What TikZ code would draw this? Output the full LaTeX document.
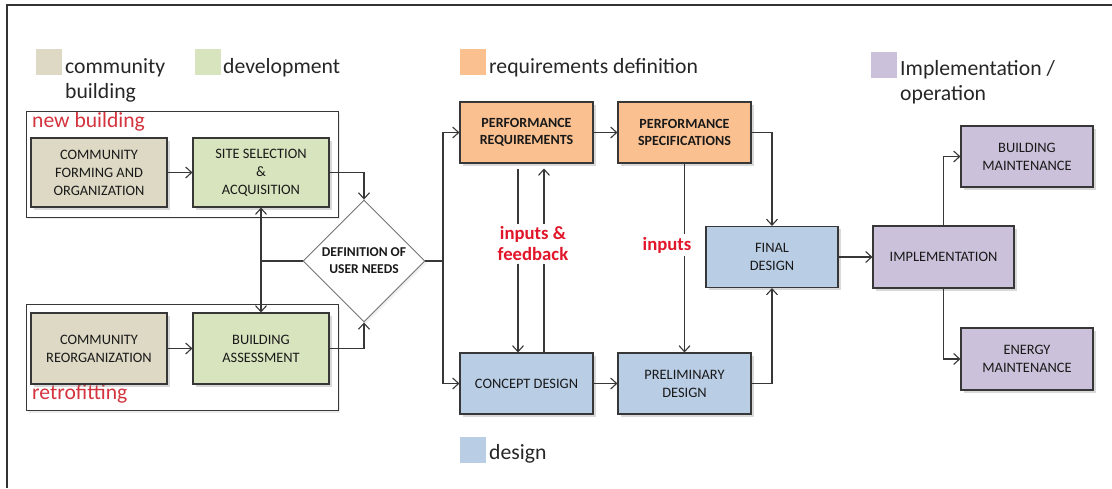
\documentclass[tikz,border=0pt]{standalone}
\usepackage{fontspec}
\setmainfont{Carlito}
\usetikzlibrary{shapes.geometric,shadows,arrows.meta}

\definecolor{commcol}{RGB}{221,217,196}
\definecolor{devcol}{RGB}{215,228,189}
\definecolor{reqcol}{RGB}{250,192,144}
\definecolor{descol}{RGB}{185,205,229}
\definecolor{impcol}{RGB}{204,193,218}
\definecolor{linecol}{RGB}{55,55,55}
\definecolor{notecol}{RGB}{212,52,62}
\definecolor{flowcol}{RGB}{226,22,42}

\begin{document}
\begin{tikzpicture}[x=1pt, y=-1pt, >={Straight Barb[length=6pt,width=11pt]},
        box/.style = {draw=linecol, line width=1.1pt, align=center, text=black!90,
            minimum width=133pt, minimum height=61pt, inner sep=1pt,
            font=\fontsize{14.4}{18}\selectfont,
            drop shadow={shadow xshift=2.5pt, shadow yshift=-2.5pt, opacity=0.3}},
        boldbox/.style = {box, font=\fontsize{14}{17.5}\selectfont\bfseries},
        group/.style = {draw=linecol, line width=1pt, fill=white,
            minimum width=312pt, minimum height=106pt,
            drop shadow={shadow xshift=2pt, shadow yshift=-2pt, opacity=0.15}},
        swatch/.style = {minimum width=26pt, minimum height=26pt, inner sep=0pt},
        legend/.style = {anchor=base west, inner sep=0pt, align=left, text=black!85,
            font=\fontsize{21.7}{25}\selectfont},
        note/.style = {anchor=base west, inner sep=0pt, text=notecol,
            font=\fontsize{21.6}{25}\selectfont},
        flow/.style = {fill=white, inner sep=3pt, align=center, text=flowcol,
            font=\fontsize{18.7}{21}\selectfont\bfseries},
        link/.style = {->, draw=linecol, line width=1.1pt},
        wire/.style = {draw=linecol, line width=1.1pt}]

        \useasboundingbox (0,0) rectangle (1112,488);
        \draw[black!80, line width=1.3pt] (7,488) -- (7,5) -- (1112,5);

        % legend (two-line entries sit on the baseline of their last line)
        \node[swatch, fill=commcol] (swcomm) at (49,62) {};
        \node[legend] (lgcomm) at (65,98) {community\\building};
        \node[swatch, fill=devcol] (swdev) at (208,62) {};
        \node[legend] (lgdev) at (223,73) {development};
        \node[swatch, fill=reqcol] (swreq) at (472.5,62) {};
        \node[legend] (lgreq) at (489,73) {requirements definition};
        \node[swatch, fill=impcol] (swimp) at (884,64.5) {};
        \node[legend] (lgimp) at (900,100) {Implementation /\\operation};
        \node[swatch, fill=descol] (swdes) at (473,449.5) {};
        \node[legend] (lgdes) at (489,459) {design};

        % new building / retrofitting frames
        \node[group] (newb) at (182,164) {};
        \node[group] (retro) at (182,357.5) {};
        \node[note] (lbnew) at (32,127) {new building};
        \node[note] (lbretro) at (32,399) {retrofitting};

        % process boxes
        \node[box, fill=commcol, minimum width=136pt, minimum height=69pt] (cfo) at (99,172.5) {COMMUNITY\\FORMING AND\\ORGANIZATION};
        \node[box, fill=devcol, minimum width=136pt, minimum height=69pt] (ssa) at (261,172.5) {SITE SELECTION\\\&\\ACQUISITION};
        \node[box, fill=commcol, minimum width=136pt, minimum height=71pt] (cro) at (99,348.5) {COMMUNITY\\REORGANIZATION};
        \node[box, fill=devcol, minimum width=136pt, minimum height=71pt] (bas) at (261,348.5) {BUILDING\\ASSESSMENT};
        \node[diamond, draw=black!55, line width=0.9pt, fill=white, minimum width=122pt, minimum height=122pt,
            inner sep=0pt, align=center, text=black!90, font=\fontsize{13.5}{17}\selectfont\bfseries,
            drop shadow={shadow xshift=2pt, shadow yshift=-2pt, opacity=0.12}] (dun) at (364,261) {DEFINITION OF\\USER NEEDS};

        \node[boldbox, fill=reqcol] (preq) at (526.5,132.5) {PERFORMANCE\\REQUIREMENTS};
        \node[boldbox, fill=reqcol] (pspec) at (684.5,132.5) {PERFORMANCE\\SPECIFICATIONS};
        \node[box, fill=descol] (cdes) at (526.5,383.5) {CONCEPT DESIGN};
        \node[box, fill=descol] (pdes) at (684.5,383.5) {PRELIMINARY\\DESIGN};
        \node[box, fill=descol, minimum width=132pt] (fdes) at (772,257) {FINAL\\DESIGN};
        \node[box, fill=impcol, minimum width=141pt, minimum height=62pt] (impl) at (943.5,257) {IMPLEMENTATION};
        \node[box, fill=impcol, minimum width=132pt] (bmain) at (1027,156.5) {BUILDING\\MAINTENANCE};
        \node[box, fill=impcol, minimum width=132pt, minimum height=62pt] (emain) at (1027,359) {ENERGY\\MAINTENANCE};

        % connectors
        \coordinate (split) at (261,261);
        \coordinate (fork) at (443,261);
        \draw[link] (cfo) -- (ssa);
        \draw[link] (cro) -- (bas);
        \draw[link] (ssa.east) -| (dun.north);
        \draw[link] (bas.east) -| (dun.south);
        \draw[wire] (dun.west) -- (split);
        \draw[link] (split) -- (ssa.south);
        \draw[link] (split) -- (bas.north);
        \draw[wire] (dun.east) -- (fork);
        \draw[link] (fork) |- (preq.west);
        \draw[link] (fork) |- (cdes.west);

        \draw[link] (preq) -- (pspec);
        \draw[link] (cdes) -- (pdes);
        \draw[link, shorten <=5pt] ([xshift=-8.5pt]preq.south) -- ([xshift=-8.5pt]cdes.north);
        \draw[link, shorten >=5pt] ([xshift=17.5pt]cdes.north) -- ([xshift=17.5pt]preq.south);
        \draw[link] (pspec) -- (pdes);
        \draw[link] (pspec.east) -| (fdes.north);
        \draw[link] (pdes.east) -| (fdes.south);
        \draw[link] (fdes) -- (impl);
        \draw[link] (impl.north) |- (bmain.west);
        \draw[link] (impl.south) |- (emain.west);

        % labels on the links
        \node[flow] (fback) at (533,244) {inputs \&\\feedback};
        \node[flow] (finp) at (667,245) {inputs};
\end{tikzpicture}
\end{document}
